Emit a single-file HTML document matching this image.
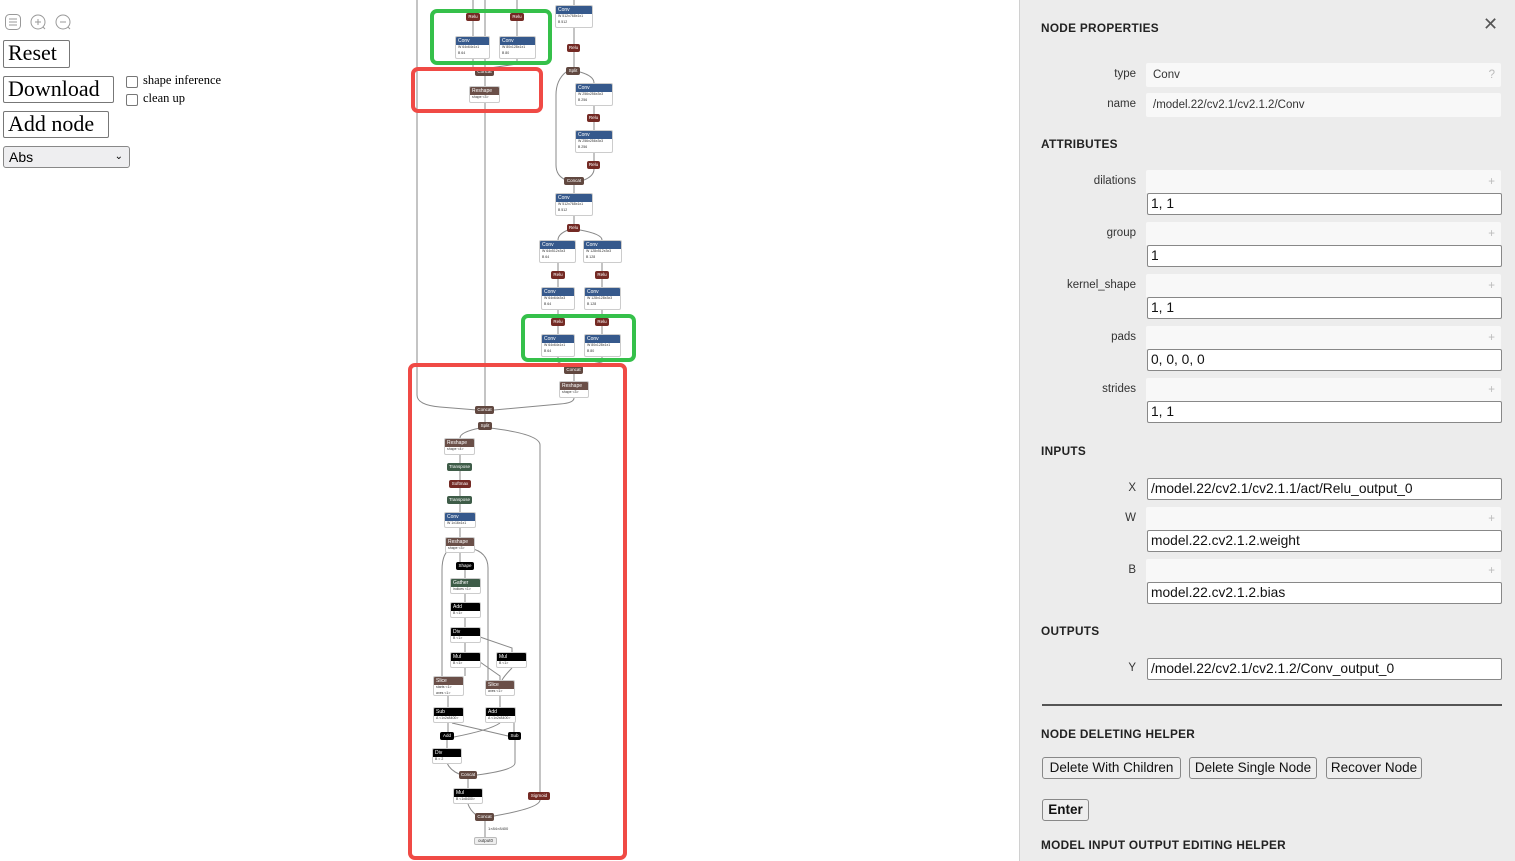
<!DOCTYPE html>
<html><head><meta charset="utf-8"><style>
body{margin:0;width:1515px;height:861px;position:relative;overflow:hidden;background:#fff;font-family:"Liberation Sans",sans-serif}
.a{position:absolute}
.btn{position:absolute;border:1px solid #777;border-radius:2px;background:#fff;font-family:"Liberation Serif",serif;font-size:22px;line-height:24px;padding:0 4px;box-sizing:border-box;color:#000}
.n{position:absolute;background:#fff;border:1px solid #ccc;border-radius:2px;box-sizing:border-box;font-size:5px;overflow:hidden}
.n b{display:block;height:8px;line-height:8px;color:#fff;font-weight:normal;padding-left:2px;background:#36598c}
.n i{display:block;font-style:normal;color:#333;font-size:3.5px;line-height:5.5px;padding-left:2px}
.n.r b{background:#6a4f48}.n.g b{background:#3e5c48}.n.k b{background:#000}
.o{position:absolute;height:8px;line-height:8px;text-align:center;color:#fff;font-size:4.5px;border-radius:2px}
.relu{background:#742a24}.cc{background:#614840}.gr{background:#3e5c48}.bk{background:#000}
.box{position:absolute;border-radius:7px;box-sizing:border-box}
.gb{border:4px solid #35c04a}.rb{border:4px solid #f04a45}
#p{position:absolute;left:1019px;top:0;width:496px;height:861px;background:#ececec;border-left:1px solid #d0d0d0;font-family:"Liberation Sans",sans-serif;color:#222}
#p .h{position:absolute;left:21px;font-size:11.8px;font-weight:bold;letter-spacing:.3px}
#p .l{position:absolute;width:116px;text-align:right;font-size:11.5px;color:#333}
#p .f{position:absolute;left:126px;width:355px;height:24px;background:#f8f8f8;border-radius:2px;font-size:11.5px;line-height:24px;box-sizing:border-box;padding-left:7px;color:#333}
#p .f span{position:absolute;right:6px;color:#bbb}
#p .in{position:absolute;left:127px;width:355px;height:22px;background:#fff;border:1px solid #888;border-radius:2px;box-sizing:border-box;font-size:13.8px;line-height:20px;padding-left:3px;color:#111}
#p .pb{position:absolute;top:757px;height:22px;border:1px solid #888;border-radius:3px;background:#eee;box-sizing:border-box;font-size:13.5px;line-height:20px;text-align:center;color:#111;white-space:nowrap}
</style></head><body>

<svg class="a" style="left:0;top:10px" width="80" height="24">
<rect x="5.5" y="4.5" width="15" height="15" rx="4" fill="none" stroke="#999"/>
<path d="M9 9h8M9 12h8M9 15h8" stroke="#999"/>
<circle cx="38" cy="12" r="7" fill="none" stroke="#999"/><path d="M35 12h6M38 9v6M43 17l2 2" stroke="#999"/>
<circle cx="63" cy="12" r="7" fill="none" stroke="#999"/><path d="M60 12h6M68 17l2 2" stroke="#999"/>
</svg>
<div class="btn" style="left:3px;top:40px;width:67px;height:28px">Reset</div>
<div class="btn" style="left:3px;top:76px;width:111px;height:27px">Download</div>
<div class="btn" style="left:3px;top:111px;width:106px;height:27px">Add node</div>
<div class="a" style="left:3px;top:146px;width:127px;height:22px;border:1px solid #888;border-radius:3px;background:#eeeef0;box-sizing:border-box;font-size:14px;line-height:20px;padding-left:5px">Abs<span style="position:absolute;right:6px;font-size:10px">&#8964;</span></div>
<div class="a" style="left:126px;top:76px;width:12px;height:12px;border:1px solid #777;border-radius:2px;box-sizing:border-box"></div>
<div class="a" style="left:126px;top:94px;width:12px;height:12px;border:1px solid #777;border-radius:2px;box-sizing:border-box"></div>
<div class="a" style="left:143px;top:73px;font-family:'Liberation Serif',serif;font-size:12.5px">shape inference</div>
<div class="a" style="left:143px;top:91px;font-family:'Liberation Serif',serif;font-size:12.5px">clean up</div>

<svg class="a" style="left:0;top:0" width="1020" height="861">
<g fill="none" stroke="#888" stroke-width="1">
<path d="M417 0V395Q417 405 440 407L477 410"/>
<path d="M485 0V406"/>
<path d="M473 0V13M517 0V13M473 21V36M517 21V36M473 59V68M517 59V64L490 68"/>
<path d="M574 0V5M574 28V44M574 51V67M580 72Q594 76 594 83M594 106V114M594 121V130M594 153V161M594 169Q594 176 584 180M566 72Q556 80 556 95V165Q556 176 566 180M574 185V193M574 216V224"/>
<path d="M568 230Q558 234 558 240M580 230Q602 234 602 240M558 263V271M602 263V271M558 279V287M602 279V287M558 310V318M602 310V318M558 326V334M602 326V334M558 357V362L566 366M602 357V362L582 366M574 373V381"/>
<path d="M574 398Q574 403 560 404L494 410M485 414V422M480 428Q460 432 460 438M490 428Q540 434 540 445V792M540 800Q540 808 494 816"/>
<path d="M460 455V463M460 471V480M460 487V496M460 503V512M460 527V537M460 553V562M452 548Q442 552 442 570V676M470 548Q488 552 488 568V680M465 569V578M465 594V602M465 618V627M465 643V652M480 637L512 648V652M465 668V676M480 662L500 676V680M512 668Q505 675 502 680M448 696V707M500 696V707M448 723V732M500 723Q490 730 454 737M452 723L508 736M514 723V732M447 740V748M447 763Q450 770 459 774M515 740V763Q515 770 477 775M468 779V788M468 804Q470 810 476 815M485 820V837"/>
</g>
</svg>

<div class="o relu" style="left:466px;top:13px;width:14px">Relu</div>
<div class="o relu" style="left:510px;top:13px;width:14px">Relu</div>
<div class="n" style="left:455px;top:36px;width:35px;height:23px"><b>Conv</b><i>W 64x64x1x1</i><i>B 64</i></div>
<div class="n" style="left:499px;top:36px;width:37px;height:23px"><b>Conv</b><i>W 80x128x1x1</i><i>B 80</i></div>
<div class="n" style="left:555px;top:5px;width:38px;height:23px"><b>Conv</b><i>W 512x768x1x1</i><i>B 512</i></div>
<div class="o relu" style="left:567px;top:44px;width:13px">Relu</div>
<div class="o cc" style="left:566px;top:67px;width:14px">Split</div>
<div class="o cc" style="left:475px;top:68px;width:19px">Concat</div>
<div class="n r" style="left:469px;top:86px;width:31px;height:17px"><b>Reshape</b><i>shape &lt;3&gt;</i></div>
<div class="n" style="left:575px;top:83px;width:38px;height:23px"><b>Conv</b><i>W 256x256x3x3</i><i>B 256</i></div>
<div class="o relu" style="left:587px;top:114px;width:13px">Relu</div>
<div class="n" style="left:575px;top:130px;width:38px;height:23px"><b>Conv</b><i>W 256x256x3x3</i><i>B 256</i></div>
<div class="o relu" style="left:587px;top:161px;width:13px">Relu</div>
<div class="o cc" style="left:564px;top:177px;width:20px">Concat</div>
<div class="n" style="left:555px;top:193px;width:38px;height:23px"><b>Conv</b><i>W 512x768x1x1</i><i>B 512</i></div>
<div class="o relu" style="left:567px;top:224px;width:13px">Relu</div>
<div class="n" style="left:539px;top:240px;width:37px;height:23px"><b>Conv</b><i>W 64x512x3x3</i><i>B 64</i></div>
<div class="n" style="left:583px;top:240px;width:39px;height:23px"><b>Conv</b><i>W 128x512x3x3</i><i>B 128</i></div>
<div class="o relu" style="left:551px;top:271px;width:14px">Relu</div>
<div class="o relu" style="left:595px;top:271px;width:14px">Relu</div>
<div class="n" style="left:541px;top:287px;width:34px;height:23px"><b>Conv</b><i>W 64x64x3x3</i><i>B 64</i></div>
<div class="n" style="left:584px;top:287px;width:37px;height:23px"><b>Conv</b><i>W 128x128x3x3</i><i>B 128</i></div>
<div class="o relu" style="left:551px;top:318px;width:14px">Relu</div>
<div class="o relu" style="left:595px;top:318px;width:14px">Relu</div>
<div class="n" style="left:541px;top:334px;width:34px;height:23px"><b>Conv</b><i>W 64x64x1x1</i><i>B 64</i></div>
<div class="n" style="left:584px;top:334px;width:37px;height:23px"><b>Conv</b><i>W 80x128x1x1</i><i>B 80</i></div>
<div class="o cc" style="left:564px;top:366px;width:19px">Concat</div>
<div class="n r" style="left:559px;top:381px;width:30px;height:17px"><b>Reshape</b><i>shape &lt;3&gt;</i></div>
<div class="o cc" style="left:475px;top:406px;width:19px">Concat</div>
<div class="o cc" style="left:478px;top:422px;width:14px">Split</div>
<div class="n r" style="left:444px;top:438px;width:31px;height:17px"><b>Reshape</b><i>shape &lt;4&gt;</i></div>
<div class="o gr" style="left:447px;top:463px;width:25px">Transpose</div>
<div class="o relu" style="left:449px;top:480px;width:22px">Softmax</div>
<div class="o gr" style="left:447px;top:496px;width:25px">Transpose</div>
<div class="n" style="left:444px;top:512px;width:32px;height:16px"><b>Conv</b><i>W 1x16x1x1</i></div>
<div class="n r" style="left:445px;top:537px;width:30px;height:16px"><b>Reshape</b><i>shape &lt;3&gt;</i></div>
<div class="o bk" style="left:456px;top:562px;width:18px">Shape</div>
<div class="n g" style="left:450px;top:578px;width:31px;height:16px"><b>Gather</b><i>indices &lt;1&gt;</i></div>
<div class="n k" style="left:450px;top:602px;width:31px;height:16px"><b>Add</b><i>B &lt;1&gt;</i></div>
<div class="n k" style="left:450px;top:627px;width:31px;height:16px"><b>Div</b><i>B &lt;1&gt;</i></div>
<div class="n k" style="left:450px;top:652px;width:31px;height:16px"><b>Mul</b><i>B &lt;1&gt;</i></div>
<div class="n k" style="left:496px;top:652px;width:31px;height:16px"><b>Mul</b><i>B &lt;1&gt;</i></div>
<div class="n r" style="left:433px;top:676px;width:31px;height:20px"><b>Slice</b><i>starts &lt;1&gt;</i><i>axes &lt;1&gt;</i></div>
<div class="n r" style="left:485px;top:680px;width:30px;height:16px"><b>Slice</b><i>axes &lt;1&gt;</i></div>
<div class="n k" style="left:433px;top:707px;width:31px;height:16px"><b>Sub</b><i>A &lt;1x2x8400&gt;</i></div>
<div class="n k" style="left:485px;top:707px;width:31px;height:16px"><b>Add</b><i>A &lt;1x2x8400&gt;</i></div>
<div class="o bk" style="left:440px;top:732px;width:14px">Add</div>
<div class="o bk" style="left:508px;top:732px;width:13px">Sub</div>
<div class="n k" style="left:432px;top:748px;width:30px;height:16px"><b>Div</b><i>B = 2</i></div>
<div class="o cc" style="left:459px;top:771px;width:18px">Concat</div>
<div class="n k" style="left:453px;top:788px;width:30px;height:16px"><b>Mul</b><i>B &lt;1x8400&gt;</i></div>
<div class="o relu" style="left:528px;top:792px;width:22px">Sigmoid</div>
<div class="o cc" style="left:475px;top:813px;width:19px">Concat</div>
<div class="a" style="left:488px;top:826px;font-size:4px;color:#333">1×84×8400</div>
<div class="o" style="left:474px;top:837px;width:23px;background:#eee;border:1px solid #bbb;color:#333;box-sizing:border-box;line-height:6px">output0</div>

<div class="box gb" style="left:430px;top:9px;width:122px;height:56px"></div>
<div class="box rb" style="left:411px;top:67px;width:132px;height:46px"></div>
<div class="box gb" style="left:521px;top:314px;width:115px;height:48px"></div>
<div class="box rb" style="left:408px;top:363px;width:219px;height:497px"></div>

<div id="p">
<div class="h" style="top:21px">NODE PROPERTIES</div>
<div class="a" style="left:463px;top:14px;font-size:18px;color:#555">&#10005;</div>
<div class="l" style="top:68px">type</div><div class="f" style="top:63px">Conv<span>?</span></div>
<div class="l" style="top:98px">name</div><div class="f" style="top:93px">/model.22/cv2.1/cv2.1.2/Conv</div>
<div class="h" style="top:137px">ATTRIBUTES</div>
<div class="l" style="top:175px">dilations</div><div class="f" style="top:170px"><span>+</span></div><div class="in" style="top:193px">1, 1</div>
<div class="l" style="top:227px">group</div><div class="f" style="top:222px"><span>+</span></div><div class="in" style="top:245px">1</div>
<div class="l" style="top:279px">kernel_shape</div><div class="f" style="top:274px"><span>+</span></div><div class="in" style="top:297px">1, 1</div>
<div class="l" style="top:331px">pads</div><div class="f" style="top:326px"><span>+</span></div><div class="in" style="top:349px">0, 0, 0, 0</div>
<div class="l" style="top:383px">strides</div><div class="f" style="top:378px"><span>+</span></div><div class="in" style="top:401px">1, 1</div>
<div class="h" style="top:444px">INPUTS</div>
<div class="l" style="top:482px">X</div><div class="in" style="top:478px">/model.22/cv2.1/cv2.1.1/act/Relu_output_0</div>
<div class="l" style="top:512px">W</div><div class="f" style="top:507px"><span>+</span></div><div class="in" style="top:530px">model.22.cv2.1.2.weight</div>
<div class="l" style="top:564px">B</div><div class="f" style="top:559px"><span>+</span></div><div class="in" style="top:582px">model.22.cv2.1.2.bias</div>
<div class="h" style="top:624px">OUTPUTS</div>
<div class="l" style="top:662px">Y</div><div class="in" style="top:658px">/model.22/cv2.1/cv2.1.2/Conv_output_0</div>
<div class="a" style="left:22px;top:704px;width:460px;height:2px;background:#555"></div>
<div class="h" style="top:727px">NODE DELETING HELPER</div>
<div class="pb" style="left:22px;width:139px">Delete With Children</div>
<div class="pb" style="left:169px;width:128px">Delete Single Node</div>
<div class="pb" style="left:306px;width:96px">Recover Node</div>
<div class="pb" style="left:22px;top:799px;width:47px;font-weight:bold">Enter</div>
<div class="h" style="top:838px">MODEL INPUT OUTPUT EDITING HELPER</div>
</div>
</body></html>
